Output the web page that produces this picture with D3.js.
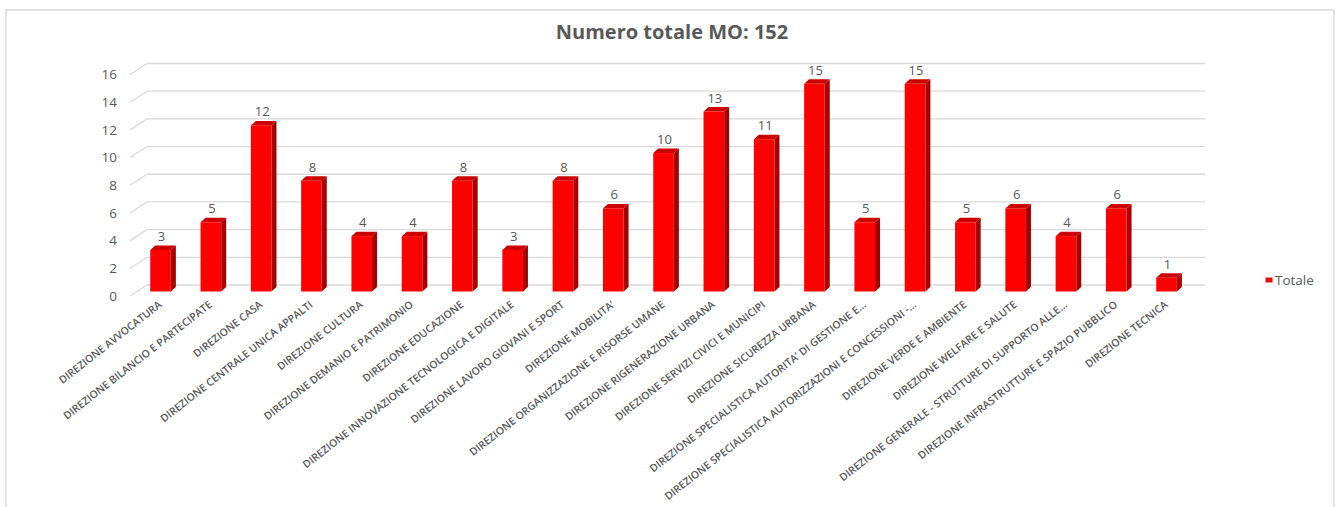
<!DOCTYPE html>
<html>
<head>
<meta charset="utf-8" />
<script src="https://d3js.org/d3.v7.min.js"></script>
<style>
body { margin: 0; background: #fff; }
text { font-family: "Open Sans", sans-serif; fill: #595959; }
</style>
</head>
<body>
<svg id="chart" width="1342" height="507"></svg>
<script>
// categorie (direzioni) e valori della serie "Totale"
var categories = [
  "DIREZIONE AVVOCATURA",
  "DIREZIONE BILANCIO E PARTECIPATE",
  "DIREZIONE CASA",
  "DIREZIONE CENTRALE UNICA APPALTI",
  "DIREZIONE CULTURA",
  "DIREZIONE DEMANIO E PATRIMONIO",
  "DIREZIONE EDUCAZIONE",
  "DIREZIONE INNOVAZIONE TECNOLOGICA E DIGITALE",
  "DIREZIONE LAVORO GIOVANI E SPORT",
  "DIREZIONE MOBILITA’",
  "DIREZIONE ORGANIZZAZIONE E RISORSE UMANE",
  "DIREZIONE RIGENERAZIONE URBANA",
  "DIREZIONE SERVIZI CIVICI E MUNICIPI",
  "DIREZIONE SICUREZZA URBANA",
  "DIREZIONE SPECIALISTICA AUTORITA’ DI GESTIONE E…",
  "DIREZIONE SPECIALISTICA AUTORIZZAZIONI E CONCESSIONI -…",
  "DIREZIONE VERDE E AMBIENTE",
  "DIREZIONE WELFARE E SALUTE",
  "DIREZIONE GENERALE - STRUTTURE DI SUPPORTO ALLE…",
  "DIREZIONE INFRASTRUTTURE E SPAZIO PUBBLICO",
  "DIREZIONE TECNICA"
];
var totale = [3, 5, 12, 8, 4, 4, 8, 3, 8, 6, 10, 13, 11, 15, 5, 15, 5, 6, 4, 6, 1];
var yTicks = [0, 2, 4, 6, 8, 10, 12, 14, 16];
var seriesName = "Totale";
var title = "Numero totale MO: " + d3.sum(totale);

var svg = d3.select("#chart");

// cornice del grafico
svg.append("rect")
  .attr("x", 6).attr("y", 10)
  .attr("width", 1328).attr("height", 520)
  .attr("fill", "none").attr("stroke", "#d9d9d9").attr("stroke-width", 1.5);

svg.append("text")
  .attr("x", 672).attr("y", 39)
  .attr("text-anchor", "middle")
  .style("font-size", "20px").style("font-weight", "bold")
  .text(title);

var x = d3.scaleBand()
  .domain(categories)
  .range([135.4, 1191.7])
  .paddingInner(0.59)
  .paddingOuter(0.295);

var y = d3.scaleLinear().domain([0, 16]).range([291.5, 70]);

// profondita' 3D
var wallBack = -6.5, wallFront = 4.5;
var depthX = 5, depthY = -4.5;

// griglia (parete di fondo + bordo del pavimento)
var grid = svg.append("g");
grid.selectAll("line.back")
  .data(yTicks).enter().append("line")
  .attr("class", "back")
  .attr("x1", 147).attr("x2", 1205)
  .attr("y1", function(d) { return y(d) + wallBack; })
  .attr("y2", function(d) { return y(d) + wallBack; })
  .attr("stroke", "#d9d9d9").attr("stroke-width", 1.3);
grid.selectAll("line.side")
  .data(yTicks).enter().append("line")
  .attr("class", "side")
  .attr("x1", 130).attr("x2", 147)
  .attr("y1", function(d) { return y(d) + wallFront; })
  .attr("y2", function(d) { return y(d) + wallBack; })
  .attr("stroke", "#d9d9d9").attr("stroke-width", 1.3);

// etichette asse y
svg.append("g").selectAll("text")
  .data(yTicks).enter().append("text")
  .attr("x", 117)
  .attr("y", function(d) { return y(d) + wallFront; })
  .attr("dy", "0.35em")
  .attr("text-anchor", "end")
  .style("font-size", "13.5px")
  .text(function(d) { return d; });

// barre 3D
var bars = svg.append("g").selectAll("g")
  .data(totale).enter().append("g");

bars.append("path") // lato destro
  .attr("fill", "#a50000")
  .attr("d", function(d, i) {
    var x1 = x(categories[i]) + x.bandwidth();
    var t = y(d), b = y(0);
    return "M" + x1 + "," + t + "L" + (x1 + depthX) + "," + (t + depthY) +
      "L" + (x1 + depthX) + "," + (b + depthY) + "L" + x1 + "," + b + "Z";
  });
bars.append("path") // faccia superiore
  .attr("fill", "#cc0000")
  .attr("d", function(d, i) {
    var x0 = x(categories[i]), x1 = x0 + x.bandwidth();
    var t = y(d);
    return "M" + x0 + "," + t + "L" + (x0 + depthX) + "," + (t + depthY) +
      "L" + (x1 + depthX) + "," + (t + depthY) + "L" + x1 + "," + t + "Z";
  });
bars.append("rect") // fronte
  .attr("fill", "#ff0000")
  .attr("x", function(d, i) { return x(categories[i]); })
  .attr("y", function(d) { return y(d); })
  .attr("width", x.bandwidth())
  .attr("height", function(d) { return y(0) - y(d); });

bars.append("text")
  .attr("x", function(d, i) { return x(categories[i]) + x.bandwidth() / 2 + 1; })
  .attr("y", function(d) { return y(d) + depthY - 4.5; })
  .attr("text-anchor", "middle")
  .style("font-size", "13px")
  .text(function(d) { return d; });

// etichette asse x
svg.append("g").selectAll("text")
  .data(categories).enter().append("text")
  .attr("text-anchor", "end")
  .attr("transform", function(d) {
    return "translate(" + (x(d) + x.bandwidth() / 2 + 2) + ",306) rotate(-38)";
  })
  .style("font-size", "10.5px").style("font-weight", "600")
  .text(function(d) { return d; });

// legenda
svg.append("rect")
  .attr("x", 1265.5).attr("y", 277.5)
  .attr("width", 7).attr("height", 5)
  .attr("fill", "#ff0000");
svg.append("text")
  .attr("x", 1275).attr("y", 280)
  .attr("dy", "0.35em")
  .style("font-size", "13.5px")
  .text(seriesName);
</script>
</body>
</html>
